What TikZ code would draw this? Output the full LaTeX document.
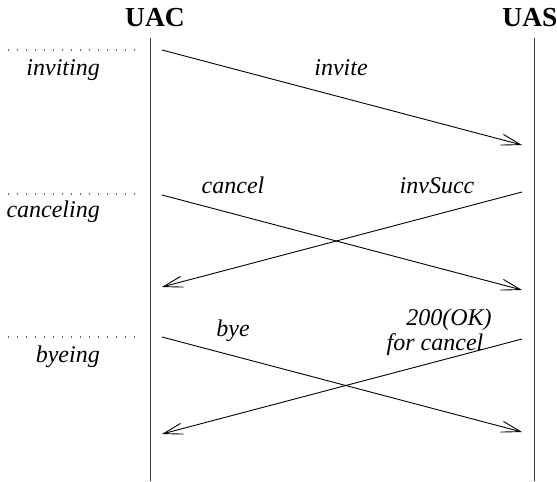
\documentclass[tikz,border=0pt]{standalone}
\usepackage{fontspec}
\setmainfont{Liberation Serif}[
  BoldFont={Liberation Serif Bold},
  ItalicFont={Liberation Serif Italic},
  BoldItalicFont={Liberation Serif Bold Italic}]
\usetikzlibrary{arrows.meta}
\begin{document}
\begin{tikzpicture}[x=1pt,y=-1pt,
  head/.style={inner sep=0pt,anchor=base,font=\fontsize{27.5}{30}\selectfont\bfseries},
  msglabel/.style={inner sep=0pt,anchor=base,font=\fontsize{24}{26}\selectfont\itshape},
  statelabel/.style={inner sep=0pt,anchor=base east,font=\fontsize{24}{26}\selectfont\itshape},
  lifeline/.style={line width=0.95pt,draw=black!80},
  msg/.style={line width=0.9pt,-{Straight Barb[length=19pt,width=11pt,line width=0.9pt]}},
  sep/.style={line width=1.2pt,dash pattern=on 1pt off 8pt,draw=black!60}]
\useasboundingbox (0,0) rectangle (557,482);

% participants
\node[head] (uac) at (155,26) {UAC};
\node[head] (uas) at (530,26) {UAS};

% lifelines
\coordinate (uacTop) at (150,38);
\coordinate (uacBot) at (150,481);
\coordinate (uasTop) at (534,38);
\coordinate (uasBot) at (534,481);
\draw[lifeline] (uacTop) -- (uacBot);
\draw[lifeline] (uasTop) -- (uasBot);

% state separators
\coordinate (s1a) at (8,50);   \coordinate (s1b) at (136,50);
\coordinate (s2a) at (8,194);  \coordinate (s2b) at (136,194);
\coordinate (s3a) at (8,337);  \coordinate (s3b) at (136,337);
\draw[sep] (s1a) -- (s1b);
\draw[sep] (s2a) -- (s2b);
\draw[sep] (s3a) -- (s3b);

\node[statelabel] (inviting)  at (100,75)  {inviting};
\node[statelabel] (canceling) at (100,217) {canceling};
\node[statelabel] (byeing)    at (100,362) {byeing};

% message endpoints
\coordinate (invA) at (162,50);   \coordinate (invB) at (522,145);
\coordinate (canA) at (162,195);  \coordinate (canB) at (522,290);
\coordinate (sucA) at (522,192);  \coordinate (sucB) at (162,287);
\coordinate (byeA) at (162,337);  \coordinate (byeB) at (522,432);
\coordinate (okA)  at (522,339);  \coordinate (okB)  at (162,434);

\draw[msg] (invA) -- (invB);
\draw[msg] (canA) -- (canB);
\draw[msg] (sucA) -- (sucB);
\draw[msg] (byeA) -- (byeB);
\draw[msg] (okA) -- (okB);

% message labels
\node[msglabel] (linv) at (341,75)  {invite};
\node[msglabel] (lcan) at (233,193) {cancel};
\node[msglabel] (lsuc) at (437,193) {invSucc};
\node[msglabel] (lbye) at (233,336) {bye};
\node[msglabel] (lok)  at (449,325) {200(OK)};
\node[msglabel] (lfor) at (435,350) {for cancel};
\end{tikzpicture}
\end{document}
